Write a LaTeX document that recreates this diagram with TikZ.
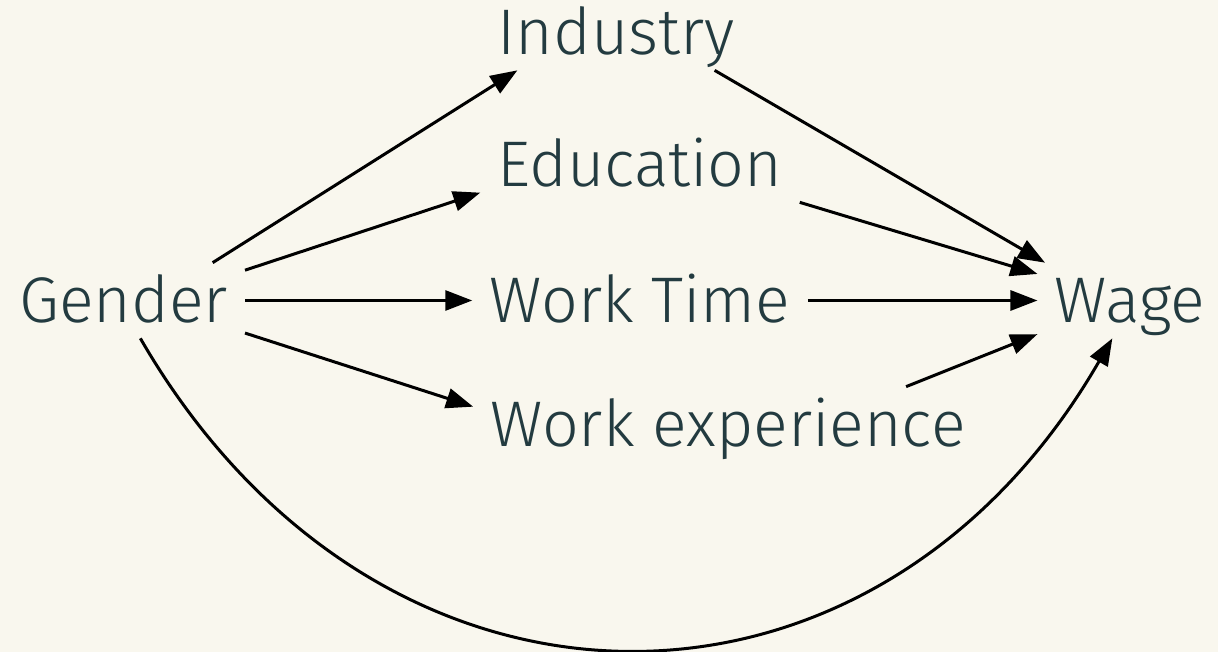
\documentclass[tikz,border=0pt]{standalone}
\usepackage{fontspec}
\setmainfont{Fira Sans Light}
\usetikzlibrary{arrows.meta}
\definecolor{paper}{HTML}{F9F7EE}
\definecolor{ink}{HTML}{233B40}

\begin{document}
\begin{tikzpicture}[x=0.02cm, y=0.02cm, every node/.style={text=ink, anchor=base, font=\fontsize{36.7}{44}\selectfont, inner xsep=0.34cm, inner ysep=0.3cm, text height=0.9cm, text depth=0pt}]
    \fill[paper] (0,0) rectangle (1218,652);
    \useasboundingbox (0,0) rectangle (1218,652);
    \node (gender) at (123.5,329) {Gender};
    \node (industry) at (616,597) {Industry};
    \node (education) at (640,465) {Education};
    \node (worktime) at (640,329) {Work Time};
    \node (workexp) at (728,205) {Work experience};
    \node (wage) at (1130,329) {Wage};
    \draw[-{Triangle[length=0.54cm,width=0.4cm]}, line width=0.06cm] (gender.23) -- (industry.201);
    \draw[-{Triangle[length=0.54cm,width=0.4cm]}, line width=0.06cm] (gender.14) -- (education.190);
    \draw[-{Triangle[length=0.54cm,width=0.4cm]}, line width=0.06cm] (gender.east) -- (worktime.west);
    \draw[-{Triangle[length=0.54cm,width=0.4cm]}, line width=0.06cm] (gender.-15) -- (workexp.176);
    \draw[-{Triangle[length=0.54cm,width=0.4cm]}, line width=0.06cm] (industry.-21) -- (wage.156);
    \draw[-{Triangle[length=0.54cm,width=0.4cm]}, line width=0.06cm] (education.south east) -- (wage.164);
    \draw[-{Triangle[length=0.54cm,width=0.4cm]}, line width=0.06cm] (worktime.east) -- (wage.west);
    \draw[-{Triangle[length=0.54cm,width=0.4cm]}, line width=0.06cm] (workexp.12) -- (wage.200);
    \draw[-{Triangle[length=0.54cm,width=0.4cm]}, line width=0.06cm] (gender.-66) to[out=-60, in=-120, looseness=1.26] (wage.245);
  \end{tikzpicture}
\end{document}
